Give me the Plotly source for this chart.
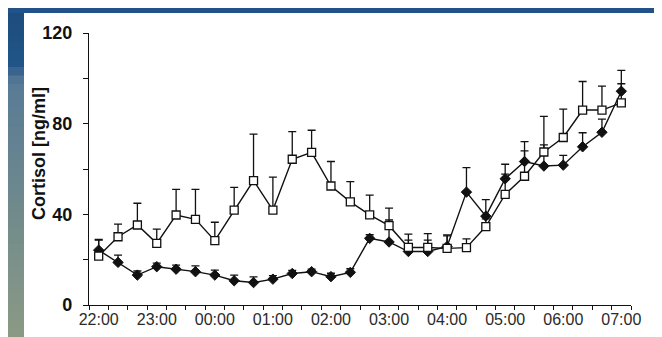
import plotly.graph_objects as go

# sample index (20-min steps from 22:00 to 07:00)
sample_idx = list(range(28))
tick_idx = [0, 3, 6, 9, 12, 15, 18, 21, 24, 27]
tick_labels = ["22:00", "23:00", "00:00", "01:00", "02:00", "03:00", "04:00", "05:00", "06:00", "07:00"]

# open squares series (mean, upper error)
sq_mean = [21.6, 30.1, 35.3, 27.2, 39.7, 37.8, 28.4, 41.9, 54.9, 41.9, 64.3, 67.3, 52.5, 45.5,
           39.8, 35.0, 25.4, 25.4, 25.0, 25.3, 34.6, 48.8, 56.8, 67.5, 73.9, 86.0, 86.0, 89.2]
sq_top = [28.6, 35.7, 44.9, 33.5, 51.0, 51.0, 36.5, 51.9, 75.4, 56.4, 76.5, 77.1, 63.3, 54.4,
          48.5, 42.7, 31.3, 31.5, 30.9, 29.2, 38.0, 57.7, 68.0, 83.2, 86.4, 98.6, 96.6, 103.5]

# filled diamonds series (mean, upper error)
dm_mean = [24.2, 18.8, 13.2, 16.9, 15.8, 14.7, 13.2, 10.7, 9.9, 11.4, 13.9, 14.7, 12.5, 14.4,
           29.4, 27.8, 23.6, 23.6, 25.8, 49.8, 39.2, 55.7, 63.3, 61.3, 61.7, 69.8, 76.2, 94.3]
dm_top = [28.9, 22.0, 15.0, 18.5, 17.6, 17.3, 15.4, 13.2, 12.4, 13.0, 15.3, 15.8, 14.0, 16.0,
          31.0, 37.5, 28.6, 28.6, 30.5, 60.6, 46.5, 62.1, 72.1, 70.6, 66.0, 76.0, 82.0, 97.6]

sq_err = [round(t - m, 2) for t, m in zip(sq_top, sq_mean)]
dm_err = [round(t - m, 2) for t, m in zip(dm_top, dm_mean)]

W, H = 662, 337
ML, MR, MT, MB = 81, 39, 25, 40
PW, PH = W - ML - MR, H - MT - MB

fig = go.Figure()

fig.add_trace(go.Scatter(
    x=sample_idx, y=dm_mean, mode="lines+markers",
    line=dict(color="#111111", width=1.4),
    marker=dict(symbol="diamond", size=8, color="#111111", line=dict(color="#111111", width=1)),
    error_y=dict(type="data", symmetric=False, array=dm_err, arrayminus=[0] * len(dm_err),
                 color="#111111", thickness=1.3, width=4),
    showlegend=False, cliponaxis=False,
))
fig.add_trace(go.Scatter(
    x=sample_idx, y=sq_mean, mode="lines+markers",
    line=dict(color="#111111", width=1.4),
    marker=dict(symbol="square", size=8, color="white", line=dict(color="#111111", width=1.3)),
    error_y=dict(type="data", symmetric=False, array=sq_err, arrayminus=[0] * len(sq_err),
                 color="#111111", thickness=1.3, width=4),
    showlegend=False, cliponaxis=False,
))


def px_x(p):
    return (p - ML) / PW


def px_y(p):
    return (H - MB - p) / PH


def mix(c1, c2, t):
    return "rgb(%d,%d,%d)" % tuple(round(a + (b - a) * t) for a, b in zip(c1, c2))


shapes = []
# left strip with vertical gradient (overlapping slices to avoid seams)
stops = [(0, (29, 76, 124)), (55, (33, 84, 136)), (75, (88, 122, 150)), (200, (112, 138, 140)), (337, (140, 154, 132))]
n = 40
for k in range(n):
    y0p = k * H / n
    y1p = (k + 1) * H / n
    mid = (y0p + y1p) / 2
    for (a, ca), (b, cb) in zip(stops[:-1], stops[1:]):
        if a <= mid <= b:
            col = mix(ca, cb, (mid - a) / (b - a))
            break
    shapes.append(dict(type="rect", xref="paper", yref="paper", layer="below",
                       x0=px_x(-1), x1=px_x(16), y0=px_y(min(y1p + 1.5, H + 1)), y1=px_y(y0p),
                       fillcolor=col, line=dict(width=0)))
# top band
shapes.append(dict(type="rect", xref="paper", yref="paper", layer="below",
                   x0=px_x(-1), x1=px_x(W + 1), y0=px_y(5), y1=px_y(-1),
                   fillcolor="#22528a", line=dict(width=0)))

fig.update_layout(
    width=W, height=H,
    margin=dict(l=ML, r=MR, t=MT, b=MB),
    paper_bgcolor="white", plot_bgcolor="white",
    shapes=shapes,
    xaxis=dict(
        range=[-0.5, 27.5], tickmode="array", tickvals=tick_idx, ticktext=tick_labels,
        ticks="", showgrid=False, zeroline=False,
        showline=True, linecolor="#111111", linewidth=1.3,
        tickfont=dict(family="Liberation Sans, Arial", size=16, color="#2a2a2a"),
        minor=dict(tickmode="linear", tick0=-0.5, dtick=1, ticks="outside", ticklen=4,
                   tickcolor="#111111", tickwidth=1.2, showgrid=False),
    ),
    yaxis=dict(
        range=[0, 120], tickmode="array", tickvals=[0, 40, 80, 120],
        ticks="outside", ticklen=5, tickcolor="#111111", tickwidth=1.2,
        showgrid=False, zeroline=False, ticklabelstandoff=7,
        showline=True, linecolor="#111111", linewidth=1.3,
        tickfont=dict(family="Liberation Sans, Arial", size=18, color="#111111", weight="bold"),
        minor=dict(tickmode="linear", tick0=0, dtick=20, ticks="outside", ticklen=5,
                   tickcolor="#111111", tickwidth=1.2, showgrid=False),
    ),
    annotations=[dict(
        text="<b>Cortisol [ng/ml]</b>", xref="paper", yref="paper",
        x=px_x(31), y=px_y(146), textangle=-90, showarrow=False,
        font=dict(family="Liberation Sans, Arial", size=18, color="#111111"),
        xanchor="center", yanchor="middle",
    )],
)

fig.write_html("out.html")
